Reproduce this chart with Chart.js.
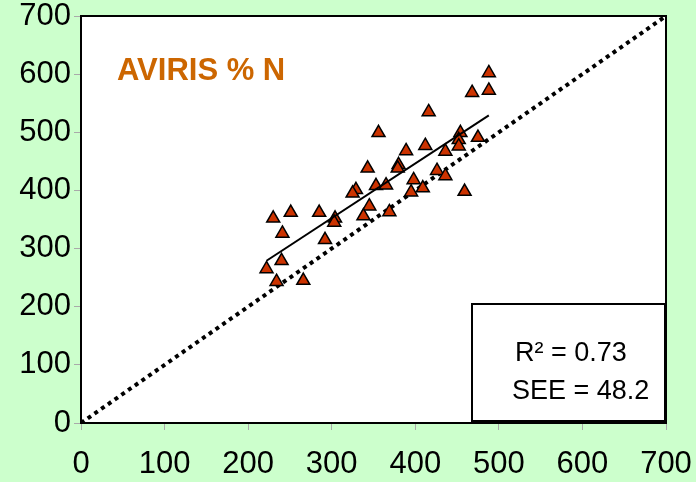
<!DOCTYPE html>
<html>
<head>
<meta charset="utf-8">
<script src="https://cdn.jsdelivr.net/npm/chart.js@4.4.1/dist/chart.umd.min.js"></script>
<style>
html,body{margin:0;padding:0;background:#CCFFCC;}
#wrap{width:696px;height:482px;}
</style>
</head>
<body>
<div id="wrap"><canvas id="c" width="696" height="482"></canvas></div>
<script>
// Measured N (x) values
const measuredX = [488, 468, 488, 416, 356, 454, 475, 452, 452, 412, 389, 436, 380, 379, 343, 426, 436, 398, 353, 365, 329, 325, 409, 395, 459, 345, 338, 369, 230, 251, 285, 304, 303, 241, 292, 240, 222, 234, 266];
// AVIRIS predicted N (y) values
const predictedY = [602, 568, 572, 535, 499, 499, 491, 487, 476, 477, 468, 467, 444, 438, 438, 434, 425, 418, 408, 409, 401, 395, 404, 397, 398, 373, 356, 363, 352, 362, 362, 352, 345, 326, 315, 279, 265, 243, 245];
// Regression line end points
const fitX = [222, 488];
const fitY = [279, 529];
// 1:1 line
const oneToOneX = [0, 700];
const oneToOneY = [0, 700];
// Axis ticks
const tickValues = [0, 100, 200, 300, 400, 500, 600, 700];
const titleText = 'AVIRIS % N';
const statLines = ['R\u00B2 = 0.73', 'SEE = 48.2'];

const pts = measuredX.map((x, i) => ({x: x, y: predictedY[i]}));
const fitPts = fitX.map((x, i) => ({x: x, y: fitY[i]}));
const linePts = oneToOneX.map((x, i) => ({x: x, y: oneToOneY[i]}));

const bgPlugin = {
  id: 'bg',
  beforeDraw(chart) {
    const ctx = chart.ctx, a = chart.chartArea;
    ctx.save();
    ctx.fillStyle = '#CCFFCC';
    ctx.fillRect(0, 0, chart.width, chart.height);
    ctx.fillStyle = '#FFFFFF';
    ctx.fillRect(a.left, a.top, a.right - a.left, a.bottom - a.top);
    ctx.restore();
  },
  afterDraw(chart) {
    const ctx = chart.ctx, a = chart.chartArea;
    ctx.save();
    ctx.strokeStyle = '#000';
    ctx.lineWidth = 2;
    ctx.strokeRect(a.left, a.top, a.right - a.left, a.bottom - a.top);
    // title
    ctx.fillStyle = '#CC6600';
    ctx.font = 'bold 31px "Liberation Sans", Arial, sans-serif';
    ctx.textAlign = 'left';
    ctx.textBaseline = 'middle';
    ctx.fillText(titleText, a.left + 36, a.top + 55);
    // stats box
    const bx = a.left + 391, by = a.top + 288, bw = a.right - 1 - (a.left + 391), bh = a.bottom - 2 - (a.top + 288);
    ctx.fillStyle = '#FFFFFF';
    ctx.fillRect(bx, by, bw, bh);
    ctx.strokeStyle = '#000';
    ctx.lineWidth = 2;
    ctx.strokeRect(bx, by, bw, bh);
    ctx.fillStyle = '#000';
    ctx.font = '27px "Liberation Sans", Arial, sans-serif';
    ctx.fillText(statLines[0], bx + 43, by + 50);
    ctx.fillText(statLines[1], bx + 40, by + 88);
    ctx.restore();
  }
};

const axisCommon = {
  type: 'linear',
  min: 0,
  max: 700,
  afterBuildTicks(scale) { scale.ticks = tickValues.map(v => ({value: v})); },
  grid: {drawOnChartArea: false, color: '#AAAAAA', tickLength: 7, lineWidth: 1},
  border: {display: true, color: '#000', width: 2}
};

new Chart(document.getElementById('c'), {
  type: 'scatter',
  data: {
    datasets: [
      {
        label: 'fit',
        data: fitPts,
        showLine: true,
        borderColor: '#000',
        borderWidth: 2,
        pointRadius: 0,
        fill: false
      },
      {
        label: 'AVIRIS',
        data: pts,
        pointStyle: 'triangle',
        pointRadius: 7.5,
        pointBackgroundColor: '#CC3300',
        pointBorderColor: '#000',
        pointBorderWidth: 1.5
      },
      {
        label: '1:1',
        data: linePts,
        showLine: true,
        borderColor: '#000',
        borderWidth: 4,
        borderDash: [4, 4.2],
        pointRadius: 0,
        fill: false
      }
    ]
  },
  options: {
    responsive: false,
    animation: false,
    devicePixelRatio: 1,
    layout: {padding: {top: 16, right: 30, left: 0, bottom: 0}},
    plugins: {legend: {display: false}, tooltip: {enabled: false}, title: {display: false}},
    scales: {
      x: Object.assign({}, axisCommon, {
        position: 'bottom',
        afterFit(scale) { scale.height = 59; scale.paddingRight = 0; scale.paddingLeft = 0; },
        ticks: {color: '#000', padding: 19, font: {size: 31, family: '"Liberation Sans", Arial, sans-serif', lineHeight: 1}, maxRotation: 0}
      }),
      y: Object.assign({}, axisCommon, {
        position: 'left',
        afterFit(scale) { scale.width = 81; scale.paddingTop = 0; scale.paddingBottom = 0; },
        ticks: {color: '#000', padding: 3, font: {size: 31, family: '"Liberation Sans", Arial, sans-serif', lineHeight: 1}}
      })
    }
  },
  plugins: [bgPlugin]
});
</script>
</body>
</html>
